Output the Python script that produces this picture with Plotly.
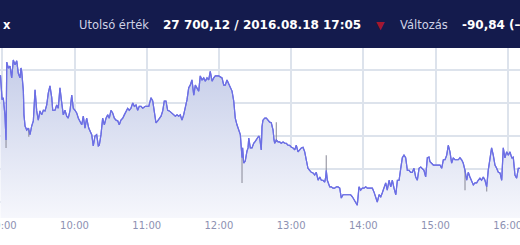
import pandas as pd
import plotly.graph_objects as go

# --- data: minutes after 09:00 and index value ---
minutes = [
 -1.5,-0.2,0.8,2.2,3.1,3.7,5.0,6.4,7.8,9.1,10.6,12.0,13.3,14.7,15.5,16.1,17.5,18.0,18.9,20.3,
 21.6,23.0,24.4,25.8,27.2,28.6,29.9,31.3,32.7,34.1,35.5,36.9,38.2,39.6,41.1,41.9,43.8,45.2,46.5,47.9,
 49.4,50.7,52.1,53.5,54.8,56.3,57.7,59.0,60.4,61.8,63.2,64.6,66.0,67.3,68.7,70.1,
 71.8,74.3,75.6,77.0,78.4,79.8,80.6,82.0,83.4,84.8,86.2,87.6,88.9,90.3,91.7,93.1,94.5,95.9,97.2,98.6,
 100.1,101.4,102.8,104.2,105.5,106.9,108.4,109.7,111.1,112.5,113.8,115.3,116.7,118.8,121.7,123.6,125.0,
 126.3,127.7,129.1,130.5,131.9,133.3,134.6,136.0,137.4,138.8,141.0,
 142.4,143.8,145.2,146.6,147.9,149.3,150.7,152.1,153.5,154.9,156.2,157.6,159.1,160.4,161.8,163.2,164.5,
 166.0,167.4,168.7,170.1,171.5,172.8,174.3,175.7,177.0,179.8,182.6,184.0,185.3,186.7,188.1,189.5,190.9,
 192.3,193.6,195.0,196.4,197.8,199.2,199.7,200.6,201.9,203.3,204.2,204.8,206.1,207.5,208.9,210.2,211.7,213.1,
 213.9,215.2,215.8,216.6,218.1,219.4,220.8,222.2,223.5,225.0,225.8,226.4,227.7,229.1,230.5,231.8,233.3,
 234.7,236.0,237.4,238.8,240.2,241.6,243.0,244.3,245.7,247.1,248.5,249.9,251.3,252.6,254.0,255.4,256.8,
 258.2,259.6,260.9,262.4,263.8,265.1,266.5,267.9,268.8,269.2,270.1,270.7,272.1,273.4,274.8,276.2,277.6,
 279.0,280.4,281.7,283.1,
 286.7,289.5,290.9,292.3,293.7,295.0,296.4,297.8,299.2,300.6,302.0,303.3,306.1,307.5,308.9,310.3,311.6,
 313.1,314.5,315.8,317.2,318.6,319.9,321.4,322.8,324.1,325.5,327.0,328.3,329.7,331.1,332.4,333.8,335.2,
 336.6,338.0,339.4,340.7,342.1,343.5,344.9,346.3,347.7,349.0,350.4,351.8,353.2,354.6,355.4,
 358.2,361.0,363.7,365.1,366.5,367.9,369.3,370.6,372.0,373.4,374.8,376.2,378.9,380.3,381.7,383.0,384.5,
 385.9,387.2,388.6,390.0,391.4,392.8,394.2,395.5,396.9,398.3,399.7,401.1,402.5,403.8,405.2,406.6,408.0,
 409.4,410.8,412.2,413.6,415.0,416.3,417.7,419.1,420.5,421.9,423.3,424.6,426.0,427.4,428.8,430.2,
]
values = [
 27842,27805,27808,27782,27744,27862,27853,27856,27838,27865,27858,27864,27845,27838,27853,27848,27818,27782,27765,27759,
 27762,27752,27765,27773,27820,27788,27774,27788,27782,27789,27788,27797,27815,27826,27808,27789,27789,27797,27792,27823,
 27800,27782,27789,27780,27777,27789,27812,27792,27789,27785,27777,27773,27767,27780,27762,27777,
 27762,27752,27735,27750,27752,27735,27736,27752,27777,27767,27777,27782,27777,27789,27785,27777,27774,27773,27767,27774,
 27777,27782,27788,27792,27789,27792,27800,27795,27797,27789,27795,27795,27792,27795,27795,27808,27803,
 27788,27770,27773,27777,27780,27788,27803,27803,27789,27788,27785,
 27782,27780,27782,27780,27782,27774,27782,27792,27805,27823,27827,27835,27812,27827,27823,27818,27841,
 27835,27838,27833,27838,27835,27848,27833,27838,27841,27841,27838,27827,27827,27835,27830,27823,27818,
 27803,27777,27767,27759,27752,27717,27732,27709,27712,27727,27732,27747,27732,27732,27739,27742,27747,27750,
 27747,27729,27764,27774,27777,27777,27774,27771,27770,27759,27744,27739,27744,27741,27741,27739,27741,
 27739,27739,27736,27736,27733,27732,27729,27736,27726,27729,27732,27733,27726,27714,27701,27698,27695,
 27694,27691,27695,27683,27688,27683,27683,27680,27688,27698,27683,27679,27673,27673,27671,27671,27673,
 27673,27671,27656,27661,
 27661,27661,27658,27653,27650,27645,27673,27668,27671,27671,27673,27671,27671,27671,27665,27656,27650,
 27661,27658,27664,27673,27679,27668,27683,27673,27683,27671,27661,27683,27683,27701,27717,27721,27717,
 27698,27698,27695,27695,27701,27688,27683,27701,27703,27701,27698,27688,27717,27718,27711,
 27706,27706,27706,27701,27714,27714,27721,27736,27726,27709,27717,27714,27714,27717,27714,27709,27698,
 27683,27695,27688,27683,27676,27679,27679,27683,27686,27683,27688,27683,27673,27698,27714,27732,27721,
 27706,27701,27695,27694,27683,27732,27717,27726,27721,27726,27717,27718,27691,27686,27701,27701,
]

# gray high/low spikes: minute, from value, to value
spike_min = [3.1, 22.0, 199.2, 227.7, 269.2, 384.5, 402.5]
spike_from = [27744, 27762, 27717, 27741, 27698, 27698, 27673]
spike_to = [27732, 27749, 27679, 27771, 27721, 27668, 27666]

x_ticks_fmt = "%H:%M"
header_label_last = "Utolsó érték"
header_value_last = "27 700,12 / 2016.08.18 17:05"
header_label_change = "Változás"
header_value_change = "-90,84 (–0,33%)"

base = pd.Timestamp("2016-08-18 09:00:00")
t = base + pd.to_timedelta(minutes, unit="m")
st = base + pd.to_timedelta(spike_min, unit="m")

sx, sy = [], []
for a, f, g in zip(st, spike_from, spike_to):
    sx += [a, a, None]
    sy += [f, g, None]

fig = go.Figure()
fig.add_trace(go.Scatter(
    x=t, y=values, mode="lines",
    line=dict(color="#6c6fe4", width=1.2),
    fill="tozeroy",
    fillgradient=dict(type="vertical",
                      colorscale=[[0, "rgb(246,247,252)"], [1, "rgb(196,204,232)"]],
                      start=27626, stop=27870),
    hoverinfo="skip", showlegend=False,
))
fig.add_trace(go.Scatter(
    x=sx, y=sy, mode="lines",
    line=dict(color="rgba(130,130,145,0.8)", width=1.2),
    hoverinfo="skip", showlegend=False,
))
fig.add_trace(go.Scatter(
    x=t, y=values, mode="lines",
    line=dict(color="#6c6fe4", width=1.2),
    hoverinfo="skip", showlegend=False,
))

H_PLOT = 170.0
def py(px_from_top):
    return (245 - 27 - px_from_top) / H_PLOT

fig.update_layout(
    width=520, height=245,
    margin=dict(l=0, r=0, t=48, b=27, autoexpand=False),
    paper_bgcolor="white", plot_bgcolor="white",
    font=dict(family="DejaVu Sans"),
    xaxis=dict(
        range=[base - pd.Timedelta(seconds=115), base + pd.Timedelta(seconds=25812)],
        type="date", tick0=base, dtick=3600000, tickformat=x_ticks_fmt,
        showgrid=True, gridcolor="#dde3ec", gridwidth=1.6,
        zeroline=False, showline=False, ticks="",
        tickfont=dict(family="DejaVu Sans", size=10, color="#8d91b2"),
        ticklabeloverflow="allow", automargin=False, fixedrange=True,
    ),
    yaxis=dict(
        range=[27625.8, 27883.3], tick0=27650, dtick=50,
        showgrid=True, gridcolor="#dde3ec", gridwidth=1.6,
        zeroline=False, showline=False, showticklabels=False, ticks="",
        automargin=False, fixedrange=True,
    ),
    shapes=[dict(type="rect", xref="paper", yref="paper", x0=0, x1=1,
                 y0=1, y1=1 + 48 / H_PLOT, fillcolor="#141b4d",
                 line=dict(width=0), layer="above")],
)

yc = py(25)
def ann(text, px, size, color, bold=False):
    fig.add_annotation(
        xref="paper", yref="paper", x=px / 520.0, y=yc,
        xanchor="left", yanchor="middle", showarrow=False,
        text=("<b>%s</b>" % text) if bold else text,
        font=dict(family="DejaVu Sans", size=size, color=color),
    )

ann("x", 1, 11.5, "#ffffff", bold=True)
ann(header_label_last, 77, 11.5, "#cfd2e6")
ann(header_value_last, 161, 12, "#ffffff", bold=True)
ann("▼", 374, 11, "#a3172f")
ann(header_label_change, 398, 11.5, "#cfd2e6")
ann(header_value_change, 460, 12, "#ffffff", bold=True)

fig.write_html("out.html")
